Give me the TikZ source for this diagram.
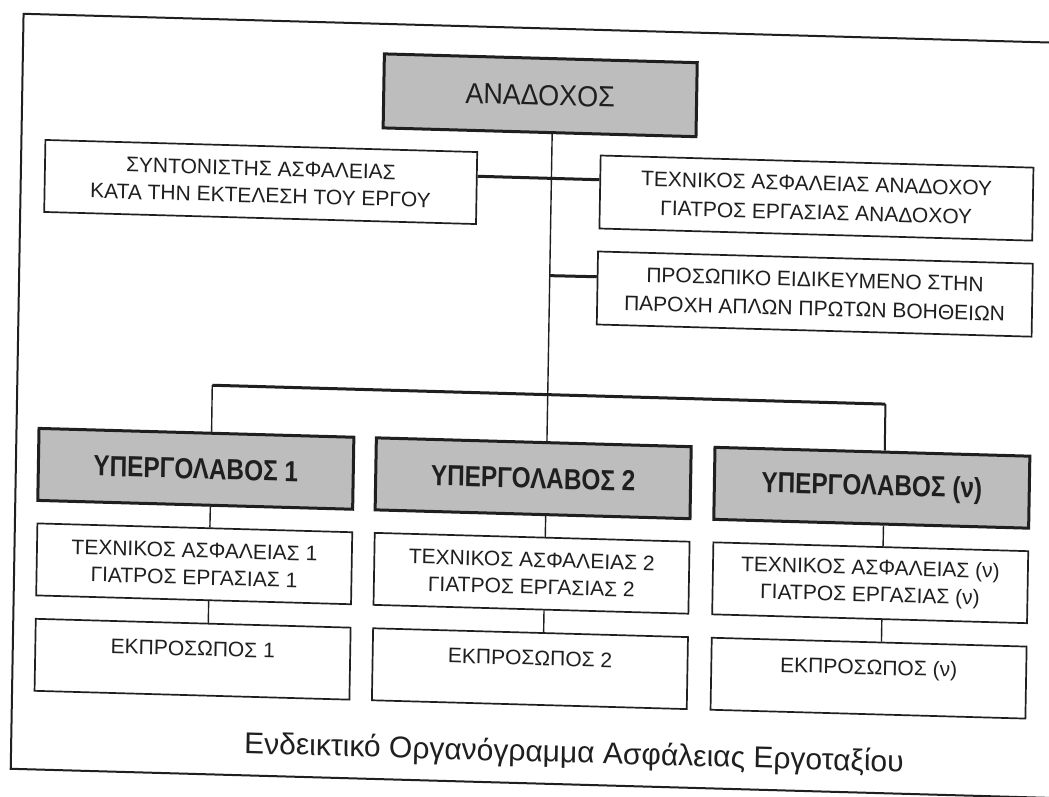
\documentclass[tikz,border=0pt]{standalone}
\usepackage{fontspec}
\setmainfont{Liberation Sans}
\usepackage{graphicx}
\usetikzlibrary{calc}
\definecolor{ink}{gray}{0.12}
\definecolor{boxgray}{gray}{0.74}
\tikzset{
  whitebox/.style={draw=ink, line width=1.7pt, fill=white, minimum width=315pt, minimum height=72pt, inner sep=2pt, align=center, text=ink, font=\fontsize{21pt}{27pt}\selectfont, transform shape},
  widebox/.style={whitebox, font=\fontsize{21pt}{29pt}\selectfont},
  ekbox/.style={draw=ink, line width=1.7pt, fill=white, minimum width=315pt, minimum height=72pt, inner sep=2pt, text=ink, font=\fontsize{21pt}{27pt}\selectfont, text height=15pt, text depth=22pt, transform shape},
  graybox/.style={draw=ink, line width=3pt, fill=boxgray, minimum width=315pt, minimum height=72pt, inner sep=2pt, text=ink, font=\fontsize{29pt}{34pt}\selectfont, transform shape},
  thinline/.style={draw=ink, line width=1.4pt},
  thickline/.style={draw=ink, line width=3pt},
  frameline/.style={draw=ink, line width=2pt},
  captionstyle/.style={text=ink, font=\fontsize{30pt}{36pt}\selectfont, transform shape}
}
\begin{document}
\begin{tikzpicture}[x=1pt,y=-1pt]
\useasboundingbox (0,0) rectangle (1049,796);
\clip (0,0) rectangle (1049,796);
\fill[white] (0,0) rectangle (1049,796);
\begin{scope}[shift={(525,400)}, xslant=0.017, yslant=-0.028, shift={(-525,-400)}]
 \draw[frameline] (1120,28) -- (17,28) -- (17,783) -- (1120,783);
 % top level
 \node[graybox, minimum width=313pt, minimum height=74pt] (anadoxos) at (535,95) {\scalebox{0.93}[1]{ΑΝΑΔΟΧΟΣ}};
 \node[whitebox, minimum width=432pt] (syntonistis) at (257,189.5) {ΣΥΝΤΟΝΙΣΤΗΣ ΑΣΦΑΛΕΙΑΣ\\ΚΑΤΑ ΤΗΝ ΕΚΤΕΛΕΣΗ ΤΟΥ ΕΡΓΟΥ};
 \node[widebox, minimum width=433pt, minimum height=73pt] (texnikosA) at (813,190) {ΤΕΧΝΙΚΟΣ ΑΣΦΑΛΕΙΑΣ ΑΝΑΔΟΧΟΥ\\ΓΙΑΤΡΟΣ ΕΡΓΑΣΙΑΣ ΑΝΑΔΟΧΟΥ};
 \node[widebox, minimum width=435pt, minimum height=73pt] (prosopiko) at (813,286) {ΠΡΟΣΩΠΙΚΟ ΕΙΔΙΚΕΥΜΕΝΟ ΣΤΗΝ\\ΠΑΡΟΧΗ ΑΠΛΩΝ ΠΡΩΤΩΝ ΒΟΗΘΕΙΩΝ};
 % subcontractors
 \node[graybox] (yp1) at (197,478) {\bfseries\scalebox{0.84}[1]{ΥΠΕΡΓΟΛΑΒΟΣ 1}};
 \node[graybox] (yp2) at (534.5,478) {\bfseries\scalebox{0.84}[1]{ΥΠΕΡΓΟΛΑΒΟΣ 2}};
 \node[graybox] (yp3) at (873.3,478) {\bfseries\scalebox{0.84}[1]{ΥΠΕΡΓΟΛΑΒΟΣ (ν)}};
 \node[whitebox] (tx1) at (197,573) {ΤΕΧΝΙΚΟΣ ΑΣΦΑΛΕΙΑΣ 1\\ΓΙΑΤΡΟΣ ΕΡΓΑΣΙΑΣ 1};
 \node[whitebox] (tx2) at (534.5,573) {ΤΕΧΝΙΚΟΣ ΑΣΦΑΛΕΙΑΣ 2\\ΓΙΑΤΡΟΣ ΕΡΓΑΣΙΑΣ 2};
 \node[whitebox] (tx3) at (873.3,573) {ΤΕΧΝΙΚΟΣ ΑΣΦΑΛΕΙΑΣ (ν)\\ΓΙΑΤΡΟΣ ΕΡΓΑΣΙΑΣ (ν)};
 \node[ekbox] (ek1) at (197,668.4) {ΕΚΠΡΟΣΩΠΟΣ 1};
 \node[ekbox] (ek2) at (534.5,668.4) {ΕΚΠΡΟΣΩΠΟΣ 2};
 \node[ekbox] (ek3) at (873.3,668.4) {ΕΚΠΡΟΣΩΠΟΣ (ν)};
 \node[captionstyle] (caption) at (580,753) {Ενδεικτικό Οργανόγραμμα Ασφάλειας Εργοταξίου};
 % connectors
 \draw[thinline] ($(anadoxos.south west)!0.54!(anadoxos.south east)$) -- ($(yp2.north west)!0.5413!(yp2.north east)$);
 \draw[thickline] ($(syntonistis.north east)!0.34!(syntonistis.south east)$) -- ($(texnikosA.north west)!0.336!(texnikosA.south west)$);
 \coordinate (j2) at (547.5,275);
 \draw[thickline] (j2) -- ($(prosopiko.north west)!0.35!(prosopiko.south west)$);
 \coordinate (b1) at (212,394);
 \coordinate (b3) at (885.5,394);
 \draw[thickline] (b1) -- (b3);
 \draw[thinline] (b1) -- ($(yp1.north west)!0.5476!(yp1.north east)$);
 \draw[thinline, line width=2pt] (b3) -- ($(yp3.north west)!0.5387!(yp3.north east)$);
 \draw[thinline] ($(yp1.south west)!0.5476!(yp1.south east)$) -- ($(tx1.north west)!0.5476!(tx1.north east)$);
 \draw[thinline] ($(tx1.south west)!0.5476!(tx1.south east)$) -- ($(ek1.north west)!0.5476!(ek1.north east)$);
 \draw[thinline] ($(yp2.south west)!0.5413!(yp2.south east)$) -- ($(tx2.north west)!0.5413!(tx2.north east)$);
 \draw[thinline] ($(tx2.south west)!0.5413!(tx2.south east)$) -- ($(ek2.north west)!0.5413!(ek2.north east)$);
 \draw[thinline] ($(yp3.south west)!0.5387!(yp3.south east)$) -- ($(tx3.north west)!0.5387!(tx3.north east)$);
 \draw[thinline] ($(tx3.south west)!0.5387!(tx3.south east)$) -- ($(ek3.north west)!0.5387!(ek3.north east)$);
\end{scope}
\end{tikzpicture}
\end{document}
